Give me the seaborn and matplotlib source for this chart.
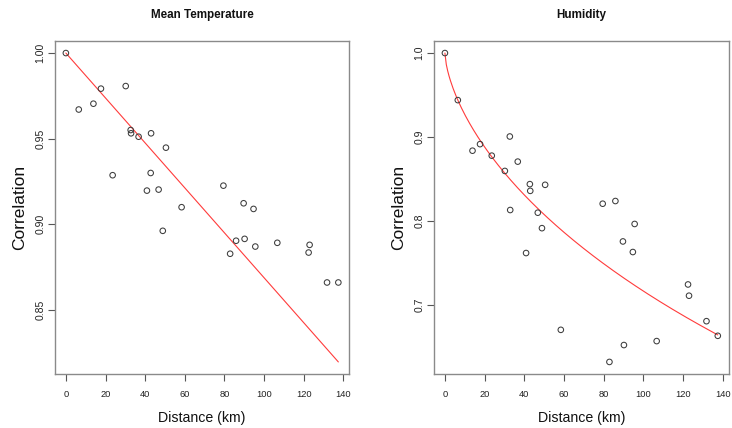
import numpy as np
import pandas as pd
import matplotlib
matplotlib.use("Agg")
import matplotlib.pyplot as plt
from matplotlib import font_manager
from matplotlib.ticker import FormatStrFormatter
import seaborn as sns

# Station-pair distances (km) and the correlation of each variable
distance_km = [0, 6.5, 13.9, 17.7, 23.6, 30.2, 32.7, 32.9, 36.7, 40.9,
               42.8, 43.0, 46.8, 48.9, 50.5, 58.4, 79.5, 82.9, 85.9, 89.7,
               90.2, 94.7, 95.6, 106.7, 122.5, 123.0, 131.8, 137.5]
temp_corr = [1.000, 0.967, 0.9704, 0.9792, 0.9286, 0.9807, 0.955, 0.9531,
             0.9511, 0.9196, 0.9299, 0.9531, 0.9202, 0.8961, 0.9447, 0.9099,
             0.9225, 0.8827, 0.8903, 0.9122, 0.8914, 0.9089, 0.8869, 0.8891,
             0.8834, 0.8879, 0.8659, 0.8659]
humid_corr = [1.000, 0.944, 0.8838, 0.8916, 0.8779, 0.8597, 0.9007, 0.8132,
              0.8708, 0.762, 0.844, 0.836, 0.810, 0.7916, 0.8432, 0.6706,
              0.8207, 0.6324, 0.8239, 0.7758, 0.6525, 0.7632, 0.7966, 0.6572,
              0.7246, 0.7112, 0.6809, 0.6635]

# Fitted decay models
temp_intercept, temp_slope = 1.0, -0.001313          # linear
humid_a, humid_p = 0.01732, 0.642                     # exp(-a * d^p)

x_ticks = [0, 20, 40, 60, 80, 100, 120, 140]
temp_yticks = [0.85, 0.90, 0.95, 1.00]
humid_yticks = [0.7, 0.8, 0.9, 1.0]

sns.set_theme(style="white")
names = {f.name for f in font_manager.fontManager.ttflist}
has_narrow = "Liberation Sans Narrow" in names
narrow = "Liberation Sans Narrow" if has_narrow else "Liberation Sans"
plt.rcParams["font.family"] = ["Liberation Sans", "DejaVu Sans"]

# horizontal text is set in a condensed face; shrink it when none is available
hscale = 1.0 if has_narrow else 0.86

df = pd.DataFrame({"distance": distance_km, "temp": temp_corr, "humid": humid_corr})
d_fit = np.linspace(0, df["distance"].max(), 200)
fits = {
    "temp": temp_intercept + temp_slope * d_fit,
    "humid": np.exp(-humid_a * d_fit ** humid_p),
}

fig = plt.figure(figsize=(7.32, 4.28), dpi=100)
axes = [fig.add_axes([0.0751, 0.1255, 0.4020, 0.7794]),
        fig.add_axes([0.5929, 0.1255, 0.4026, 0.7794])]

panels = [("temp", "Mean Temperature", temp_yticks, "%.2f"),
          ("humid", "Humidity", humid_yticks, "%.1f")]

frame_col = "#8a8a8a"
for ax, (col, title, yt, fmt) in zip(axes, panels):
    sns.scatterplot(data=df, x="distance", y=col, ax=ax, s=16,
                    facecolor="none", edgecolor="#3c3c3c", linewidth=0.75,
                    zorder=3)
    sns.lineplot(x=d_fit, y=fits[col], ax=ax, color="#ff3b3b", linewidth=0.8,
                 zorder=2)

    xr = df["distance"].max() - df["distance"].min()
    ax.set_xlim(df["distance"].min() - 0.04 * xr, df["distance"].max() + 0.04 * xr)
    ylo = min(df[col].min(), fits[col].min())
    yhi = max(df[col].max(), fits[col].max())
    ax.set_ylim(ylo - 0.04 * (yhi - ylo), yhi + 0.04 * (yhi - ylo))

    ax.set_xticks(x_ticks)
    ax.set_yticks(yt)
    ax.yaxis.set_major_formatter(FormatStrFormatter(fmt))
    ax.tick_params(axis="both", which="major", direction="out", length=5,
                   width=0.8, color="#555555", labelcolor="#222222",
                   labelsize=7.5, bottom=True, left=True)
    ax.tick_params(axis="x", pad=6, labelsize=7.8 * hscale)
    ax.tick_params(axis="y", pad=2, labelrotation=90)
    for lab in ax.get_xticklabels():
        lab.set_family([narrow, "DejaVu Sans"])
    for lab in ax.get_yticklabels():
        lab.set_va("center")
        lab.set_ha("right")

    for sp in ax.spines.values():
        sp.set_visible(True)
        sp.set_color(frame_col)
        sp.set_linewidth(1.0)

    ax.set_xlabel("Distance (km)", fontsize=11.8 * hscale,
                  family=[narrow, "DejaVu Sans"], color="#111111", labelpad=9)
    ax.set_ylabel("Correlation", fontsize=12.5, color="#111111", labelpad=6)
    ax.set_title(title, fontsize=9.7 * hscale, fontweight="bold",
                 family=[narrow, "DejaVu Sans"], color="#111111", pad=16)
    ax.grid(False)

fig.savefig("out.png", dpi=100, facecolor="white")
